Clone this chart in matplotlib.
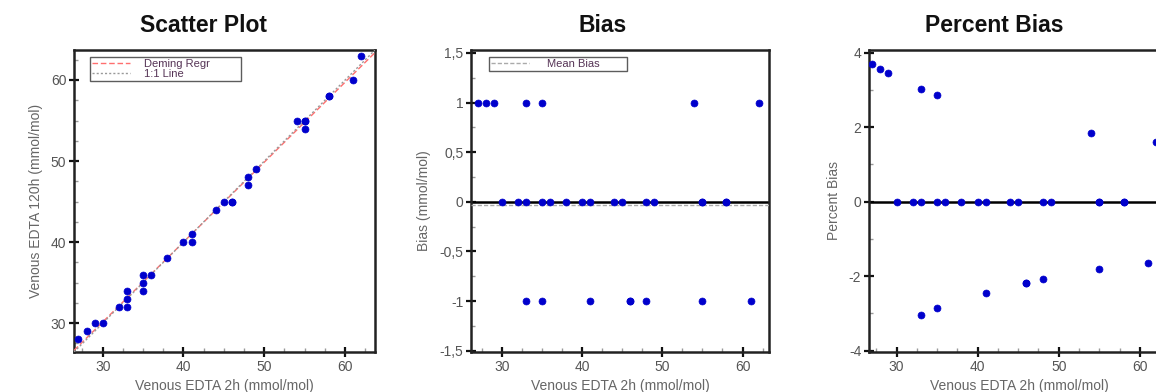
import numpy as np
import matplotlib
matplotlib.use("Agg")
import matplotlib.pyplot as plt
from matplotlib.ticker import MultipleLocator, FuncFormatter

# Paired measurements (mmol/mol)
venous_2h = [27, 28, 29, 30, 32, 33, 33, 33, 35, 35, 35, 36, 38, 40, 41, 41,
             44, 45, 46, 46, 48, 48, 49, 54, 55, 55, 55, 58, 58, 61, 62]
venous_120h = [28, 29, 30, 30, 32, 32, 33, 34, 34, 35, 36, 36, 38, 40, 40, 41,
               44, 45, 45, 45, 47, 48, 49, 55, 54, 55, 55, 58, 58, 60, 63]

panel_titles = ["Scatter Plot", "Bias", "Percent Bias"]
x_label = "Venous EDTA 2h (mmol/mol)"
y_labels = ["Venous EDTA 120h (mmol/mol)", "Bias (mmol/mol)", "Percent Bias"]

x = np.array(venous_2h, dtype=float)
y = np.array(venous_120h, dtype=float)
bias = y - x
pct_bias = bias / x * 100.0
mean_bias = bias.mean()

# Deming regression (error variance ratio = 1)
mx, my = x.mean(), y.mean()
sxx = np.sum((x - mx) ** 2)
syy = np.sum((y - my) ** 2)
sxy = np.sum((x - mx) * (y - my))
slope = (syy - sxx + np.sqrt((syy - sxx) ** 2 + 4 * sxy ** 2)) / (2 * sxy)
intercept = my - slope * mx

plt.rcParams['font.family'] = ['Liberation Sans', 'DejaVu Sans']
plt.rcParams['axes.unicode_minus'] = False

W, H = 1156, 392
fig = plt.figure(figsize=(W / 100, H / 100), dpi=100)


def px_axes(left, right, top, bottom):
    return fig.add_axes([left / W, (H - bottom) / H, (right - left) / W, (bottom - top) / H])


ax1 = px_axes(74, 375, 50, 352)
ax2 = px_axes(471, 769, 50, 352)
ax3 = px_axes(869, 1169, 50, 352)

dot = dict(marker='o', linestyle='none', color='#0000cc', markersize=5.0,
           markeredgewidth=0.5, zorder=5)
tick_color = '#555555'
label_color = '#666666'


def comma_fmt(v, pos):
    return ('%g' % v).replace('.', ',')


def style(ax):
    for sp in ax.spines.values():
        sp.set_linewidth(1.8)
        sp.set_color('#222222')
    ax.tick_params(which='major', direction='inout', length=7, width=1.6,
                   color='#111111', labelsize=10, labelcolor=tick_color, pad=2)
    ax.tick_params(which='minor', direction='in', length=3, width=1.0, color='#999999')
    ax.tick_params(top=False, right=False, which='both')
    ax.xaxis.set_major_locator(MultipleLocator(10))
    ax.xaxis.set_minor_locator(MultipleLocator(2.5))
    ax.set_xlabel(x_label, fontsize=10, color=label_color, labelpad=4)


# Scatter plot
lims = (26.45, 63.7)
ax1.set_xlim(*lims)
ax1.set_ylim(*lims)
xx = np.array(lims)
ax1.plot(xx, intercept + slope * xx, color='#ff6f6f', linestyle=(0, (4, 2)), linewidth=1.0,
         label='Deming Regr', zorder=3)
ax1.plot(xx, xx, color='#999999', linestyle=(0, (1.5, 1.5)), linewidth=1.0,
         label='1:1 Line', zorder=3)
ax1.plot(x, y, **dot)
style(ax1)
ax1.yaxis.set_major_locator(MultipleLocator(10))
ax1.yaxis.set_minor_locator(MultipleLocator(2.5))
ax1.set_ylabel(y_labels[0], fontsize=10, color=label_color, labelpad=6)
leg1 = ax1.legend(loc='upper left', bbox_to_anchor=(0.053, 0.0, 0.502, 0.977), mode='expand',
                  fontsize=8, frameon=True, fancybox=False, handlelength=3.4,
                  borderpad=0.2, labelspacing=0.0, handletextpad=1.3, borderaxespad=0)
leg1.get_frame().set_edgecolor('#333333')
leg1.get_frame().set_linewidth(1.0)
for t in leg1.get_texts():
    t.set_color('#553355')

# Bias
ax2.set_xlim(26.16, 63.3)
ax2.set_ylim(-1.513, 1.53)
ax2.axhline(0, color='black', linewidth=1.8, zorder=2)
ax2.axhline(mean_bias, color='#aaaaaa', linestyle=(0, (3, 1.5)), linewidth=1.0,
            label='Mean Bias', zorder=3)
ax2.plot(x, bias, **dot)
style(ax2)
ax2.yaxis.set_major_locator(MultipleLocator(0.5))
ax2.yaxis.set_minor_locator(MultipleLocator(0.25))
ax2.yaxis.set_major_formatter(FuncFormatter(comma_fmt))
ax2.set_ylabel(y_labels[1], fontsize=10, color=label_color, labelpad=6)
leg2 = ax2.legend(loc='upper left', bbox_to_anchor=(0.060, 0.0, 0.463, 0.977), mode='expand',
                  fontsize=8, frameon=True, fancybox=False, handlelength=3.4,
                  borderpad=0.2, handletextpad=1.6, borderaxespad=0)
leg2.get_frame().set_edgecolor('#333333')
leg2.get_frame().set_linewidth(1.0)
for t in leg2.get_texts():
    t.set_color('#553355')

# Percent bias
ax3.set_xlim(26.6, 63.6)
ax3.set_ylim(-4.035, 4.07)
ax3.axhline(0, color='black', linewidth=1.8, zorder=2)
ax3.plot(x, pct_bias, **dot)
style(ax3)
ax3.yaxis.set_major_locator(MultipleLocator(2))
ax3.yaxis.set_minor_locator(MultipleLocator(1))
ax3.set_ylabel(y_labels[2], fontsize=10, color=label_color, labelpad=6)

# Panel titles
for cx, title in zip([203, 603, 994], panel_titles):
    fig.text(cx / W, 1 - 25 / H, title, ha='center', va='center',
             fontsize=16.5, fontweight='bold', color='#111111')

fig.savefig("out.png", dpi=100)
